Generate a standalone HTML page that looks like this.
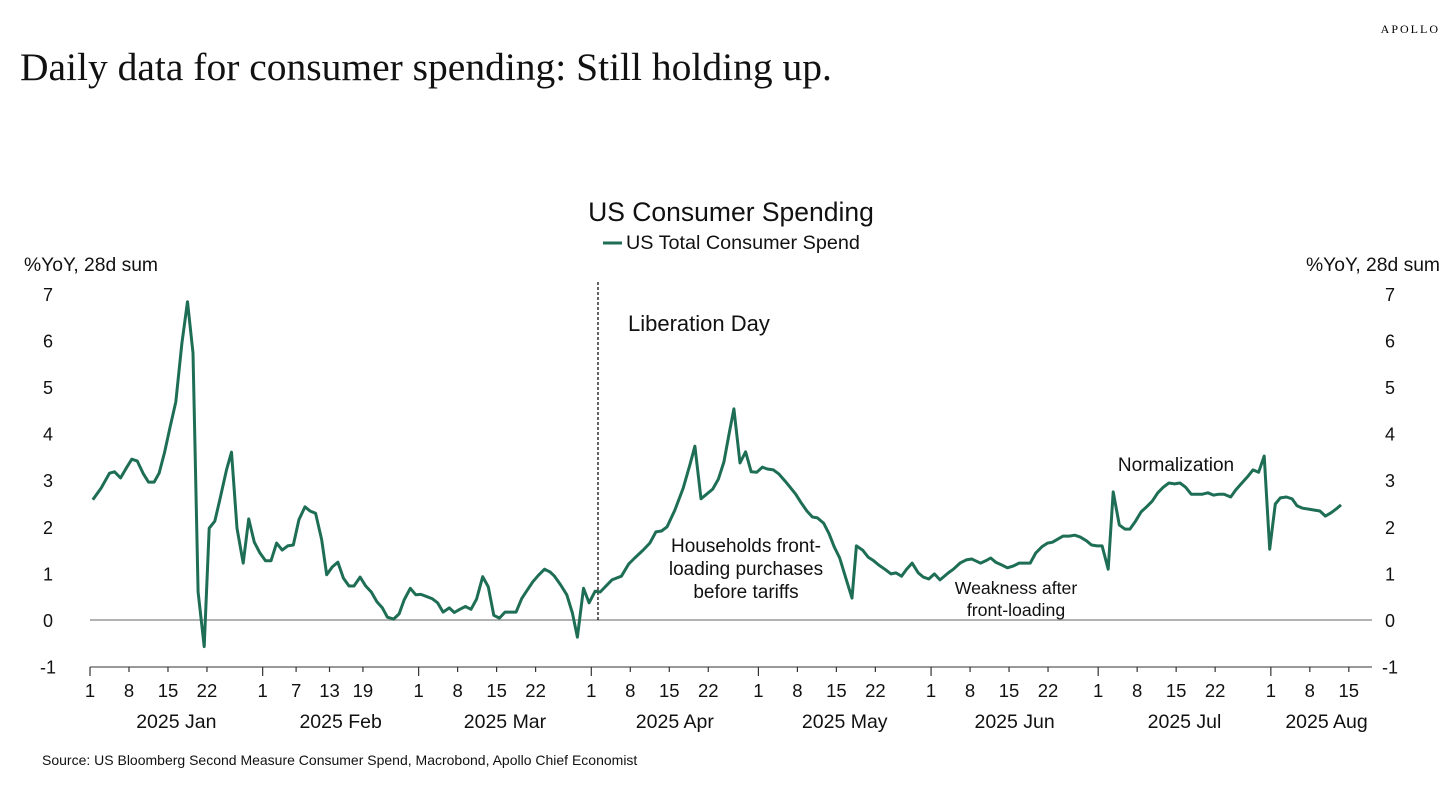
<!DOCTYPE html>
<html><head><meta charset="utf-8"><style>
body{margin:0;background:#fff;width:1456px;height:783px;overflow:hidden;font-family:"Liberation Sans",sans-serif}
</style></head><body>
<svg width="1456" height="783" xmlns="http://www.w3.org/2000/svg" id="chart">
<text x="1440" y="33" text-anchor="end" font-family="Liberation Serif,serif" font-size="12" letter-spacing="2">APOLLO</text>
<text x="20" y="80" font-family="Liberation Serif,serif" font-size="39.5" fill="#111">Daily data for consumer spending: Still holding up.</text>
<text x="731" y="221" text-anchor="middle" font-size="26.5" fill="#111">US Consumer Spending</text>
<line x1="603" y1="243" x2="622" y2="243" stroke="#1e6e55" stroke-width="3"/>
<text x="626" y="249" font-size="19.8" fill="#111">US Total Consumer Spend</text>
<text x="24" y="271" font-size="19.3" fill="#111">%YoY, 28d sum</text>
<text x="1440" y="271" text-anchor="end" font-size="19.3" fill="#111">%YoY, 28d sum</text>
<g id="g"></g>
<text x="628" y="331" font-size="22" fill="#111">Liberation Day</text>
<text text-anchor="middle" font-size="19" fill="#111"><tspan x="746" y="552">Households front-</tspan><tspan x="746" y="575">loading purchases</tspan><tspan x="746" y="598">before tariffs</tspan></text>
<text text-anchor="middle" font-size="17.7" fill="#111"><tspan x="1016" y="594">Weakness after</tspan><tspan x="1016" y="616">front-loading</tspan></text>
<text x="1176" y="471" text-anchor="middle" font-size="19" fill="#111">Normalization</text>
<text x="42" y="765" font-size="14" fill="#111">Source: US Bloomberg Second Measure Consumer Spend, Macrobond, Apollo Chief Economist</text>
</svg>
<script>
const days=[0.5,2,3.5,4.4,5.5,6.6,7.5,8.5,9.6,10.5,11.5,12.4,13.4,14.4,15.4,16.5,17.5,18.5,19.4,20.5,21.4,22.4,23.3,24.5,25.4,26.4,27.5,28.5,29.5,30.5,31.5,32.5,33.5,34.5,35.5,36.5,37.5,38.6,39.5,40.5,41.6,42.5,43.5,44.5,45.5,46.5,47.4,48.5,49.5,50.5,51.5,52.5,53.4,54.5,55.5,56.4,57.5,58.5,59.4,60.5,61.4,62.4,63.4,64.5,65.4,66.4,67.4,68.4,69.4,70.5,71.5,72.5,73.5,74.5,75.5,76.5,77.5,78.5,79.5,80.5,81.6,82.6,83.4,84.5,85.6,86.6,87.5,88.6,89.6,90.7,91.6,93.7,95.4,96.7,97.8,99.3,100.5,101.6,102.6,103.6,105,106.5,107.7,108.6,109.7,110.7,111.8,112.8,113.8,114.8,115.6,116.7,117.7,118.7,119.7,120.7,121.6,122.7,123.7,124.8,125.7,126.7,127.6,128.7,129.7,130.6,131.7,132.7,133.6,134.6,135.7,136.8,137.6,138.7,139.7,140.7,141.6,142.7,143.8,144.7,145.7,146.6,147.6,148.7,149.6,150.6,151.6,152.6,154.1,155,156.2,157.3,158.3,159,159.9,160.8,161.7,162.6,163.7,164.7,165.8,166.8,167.7,168.8,169.8,170.9,171.9,172.8,173.8,174.7,175.8,176.8,177.8,178.9,179.8,180.8,181.7,182.8,183.7,184.8,185.8,186.7,187.7,188.7,189.7,190.7,191.7,192.7,193.7,194.7,195.7,196.7,197.7,198.7,199.7,200.7,201.7,202.7,203.6,204.8,205.7,206.8,207.8,208.8,209.8,210.8,211.8,212.8,213.7,214.8,215.8,216.7,217.7,218.8,219.7,220.8,221.8,222.8,223.7,224.6];
const values=[2.58,2.83,3.15,3.18,3.05,3.28,3.45,3.41,3.13,2.96,2.96,3.15,3.6,4.15,4.68,5.94,6.83,5.73,0.6,-0.57,1.97,2.12,2.58,3.22,3.6,1.97,1.22,2.17,1.67,1.44,1.27,1.27,1.65,1.5,1.59,1.61,2.15,2.43,2.34,2.29,1.72,0.97,1.14,1.24,0.9,0.73,0.73,0.92,0.73,0.6,0.39,0.26,0.06,0.02,0.13,0.43,0.68,0.54,0.55,0.5,0.46,0.37,0.17,0.26,0.16,0.23,0.29,0.23,0.45,0.93,0.71,0.1,0.04,0.17,0.17,0.17,0.46,0.64,0.82,0.96,1.09,1.03,0.94,0.75,0.54,0.15,-0.37,0.68,0.37,0.62,0.6,0.86,0.94,1.2,1.33,1.5,1.65,1.89,1.91,2.0,2.36,2.83,3.33,3.73,2.6,2.7,2.81,3.02,3.39,4.03,4.53,3.37,3.61,3.18,3.17,3.28,3.24,3.22,3.13,2.98,2.85,2.7,2.53,2.34,2.21,2.19,2.08,1.85,1.57,1.33,0.9,0.47,1.59,1.5,1.35,1.27,1.18,1.09,0.99,1.01,0.94,1.09,1.22,1.01,0.92,0.88,0.99,0.86,1.01,1.09,1.22,1.29,1.31,1.27,1.22,1.27,1.33,1.24,1.18,1.12,1.16,1.22,1.22,1.22,1.44,1.57,1.65,1.67,1.74,1.8,1.8,1.82,1.78,1.7,1.61,1.59,1.59,1.09,2.75,2.04,1.95,1.95,2.12,2.32,2.43,2.55,2.73,2.85,2.94,2.92,2.94,2.85,2.7,2.7,2.7,2.73,2.68,2.7,2.7,2.64,2.79,2.94,3.07,3.22,3.17,3.52,1.52,2.49,2.62,2.64,2.6,2.45,2.4,2.38,2.36,2.34,2.23,2.3,2.38,2.47];
const yTicks=[-1,0,1,2,3,4,5,6,7];
const tickDays=[0,7,14,21,31,37,43,49,59,66,73,80,90,97,104,111,120,127,134,141,151,158,165,172,181,188,195,202,212,219,226];
const tickLabels=["1","8","15","22","1","7","13","19","1","8","15","22","1","8","15","22","1","8","15","22","1","8","15","22","1","8","15","22","1","8","15"];
const monthStarts=[0,31,59,90,120,151,181,212];
const monthLabels=["2025 Jan","2025 Feb","2025 Mar","2025 Apr","2025 May","2025 Jun","2025 Jul","2025 Aug"];
const monthCenters=[15.5,45,74.5,105,135.5,166,196.5,222];
const eventDay=91.2;

const X=d=>90+d*5.57, Y=v=>620-v*46.6;
const g=document.getElementById('g'), NS='http://www.w3.org/2000/svg';
function mk(t,a,txt){const e=document.createElementNS(NS,t);for(const k in a)e.setAttribute(k,a[k]);if(txt!==undefined)e.textContent=txt;g.appendChild(e);return e;}
let e=mk('line',{x1:90,x2:1372,y1:Y(0),y2:Y(0),stroke:'#999','stroke-width':1.5});


e=mk('line',{x1:90,x2:1372,y1:667,y2:667,stroke:'#333','stroke-width':1});


yTicks.forEach(v=>{
 let t=mk('text',{x:48,y:Y(v)+7,'text-anchor':'middle','font-size':18,fill:'#111'},String(v));
 
 
 t=mk('text',{x:1390,y:Y(v)+7,'text-anchor':'middle','font-size':18,fill:'#111'},String(v));
 
 
});
tickDays.forEach((d,i)=>{
 const big=monthStarts.includes(d);
 let l=mk('line',{x1:X(d),x2:X(d),y1:667,y2:big?676:672,stroke:'#333','stroke-width':1.2});
 
 
 let t=mk('text',{x:X(d),y:697,'text-anchor':'middle','font-size':18.5,fill:'#111'},tickLabels[i]);
 
 
});
monthCenters.forEach((d,i)=>{
 let t=mk('text',{x:X(d),y:728,'text-anchor':'middle','font-size':19.5,fill:'#111'},monthLabels[i]);
 
 
});
e=mk('line',{x1:X(eventDay),x2:X(eventDay),y1:282,y2:Y(0),stroke:'#111','stroke-width':1.3,'stroke-dasharray':'3,2'});


const p=days.map((d,i)=>(i?'L':'M')+X(d).toFixed(1)+','+Y(values[i]).toFixed(1)).join('');
e=mk('path',{d:p,fill:'none',stroke:'#1e6e55','stroke-width':3,'stroke-linejoin':'round'});


</script>
</body></html>
